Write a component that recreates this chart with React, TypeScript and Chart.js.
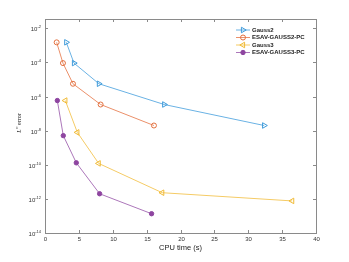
import React, { useEffect, useRef } from "react";
import { Chart, registerables } from "chart.js";

Chart.register(...registerables);

const seriesNames = ["Gauss2", "ESAV-GAUSS2-PC", "Gauss3", "ESAV-GAUSS3-PC"];
const gauss2Cpu = [3.14, 4.28, 7.96, 17.6, 32.35];
const gauss2Err = [1.5e-3, 9.1e-5, 5.6e-6, 3.4e-7, 2.0e-8];
const esav2Cpu = [1.72, 2.65, 4.13, 8.21, 16.08];
const esav2Err = [1.5e-3, 9.1e-5, 5.6e-6, 3.4e-7, 2.0e-8];
const gauss3Cpu = [3.0, 4.77, 7.92, 17.3, 36.48];
const gauss3Err = [5.8e-7, 7.9e-9, 1.2e-10, 2.3e-12, 7.6e-13];
const esav3Cpu = [1.82, 2.7, 4.62, 8.06, 15.73];
const esav3Err = [5.8e-7, 5.1e-9, 1.3e-10, 2.0e-12, 1.35e-13];

const xTicks = [0, 5, 10, 15, 20, 25, 30, 35, 40];
const yTickExps = [-14, -12, -10, -8, -6, -4, -2];
const xTitle = "CPU time (s)";
const yTitleMain = "L";
const yTitleSup = "\u221E";
const yTitleRest = " error";

const markerColors = ["#3F9BDA", "#E2703F", "#F0BA35", "#8E45A0"];
const lineColors = ["#6AB2E4", "#EB906A", "#F5CB65", "#AC77BA"];

const toPoints = (xs: number[], ys: number[]) => xs.map((x, i) => ({ x, y: ys[i] }));

function drawMarker(
  ctx: CanvasRenderingContext2D,
  style: string,
  rot: number,
  x: number,
  y: number,
  r: number,
  stroke: string,
  fill: string
) {
  ctx.save();
  ctx.translate(x, y);
  ctx.rotate((rot * Math.PI) / 180);
  ctx.beginPath();
  if (style === "triangle") {
    ctx.moveTo(0, -r);
    ctx.lineTo(r * 0.866, r * 0.5);
    ctx.lineTo(-r * 0.866, r * 0.5);
    ctx.closePath();
  } else {
    ctx.arc(0, 0, r, 0, Math.PI * 2);
  }
  ctx.fillStyle = fill;
  ctx.fill();
  ctx.strokeStyle = stroke;
  ctx.lineWidth = 1;
  ctx.stroke();
  ctx.restore();
}

const axisPlugin = {
  id: "matlabAxes",
  beforeDatasetsDraw(chart: any) {
    const ctx = chart.ctx as CanvasRenderingContext2D;
    const { left, right, top, bottom } = chart.chartArea;
    const xs = chart.scales.x;
    const ys = chart.scales.y;
    ctx.save();
    ctx.strokeStyle = "#8a8a8a";
    ctx.lineWidth = 1;
    ctx.strokeRect(Math.round(left) + 0.5, Math.round(top) + 0.5, Math.round(right - left), Math.round(bottom - top));
    ctx.fillStyle = "#333";
    ctx.font = "6px 'Liberation Sans', Arial, sans-serif";
    ctx.textAlign = "center";
    ctx.textBaseline = "top";
    for (const v of xTicks) {
      const px = Math.round(xs.getPixelForValue(v)) + 0.5;
      ctx.beginPath();
      ctx.moveTo(px, bottom);
      ctx.lineTo(px, bottom - 3);
      ctx.moveTo(px, top);
      ctx.lineTo(px, top + 3);
      ctx.stroke();
      ctx.fillText(String(v), px, bottom + 3);
    }
    for (const e of yTickExps) {
      const py = Math.round(ys.getPixelForValue(Math.pow(10, e))) + 0.5;
      ctx.beginPath();
      ctx.moveTo(left, py);
      ctx.lineTo(left + 3, py);
      ctx.moveTo(right, py);
      ctx.lineTo(right - 3, py);
      ctx.stroke();
      const sup = String(e);
      ctx.font = "4px 'Liberation Sans', Arial, sans-serif";
      const supW = ctx.measureText(sup).width;
      ctx.textAlign = "left";
      ctx.textBaseline = "alphabetic";
      ctx.fillText(sup, left - 4 - supW, py - 1);
      ctx.font = "6px 'Liberation Sans', Arial, sans-serif";
      ctx.textAlign = "right";
      ctx.textBaseline = "middle";
      ctx.fillText("10", left - 4 - supW, py + 1);
    }
    ctx.font = "7.5px 'Liberation Sans', Arial, sans-serif";
    ctx.textAlign = "center";
    ctx.textBaseline = "middle";
    ctx.fillStyle = "#222";
    ctx.fillText(xTitle, (left + right) / 2, bottom + 15);
    ctx.save();
    ctx.translate(19, (top + bottom) / 2 - 3);
    ctx.rotate(-Math.PI / 2);
    ctx.font = "italic 6px 'Liberation Serif', 'DejaVu Serif', serif";
    const wL = ctx.measureText(yTitleMain).width;
    ctx.font = "4px 'Liberation Serif', 'DejaVu Serif', serif";
    const wS = ctx.measureText(yTitleSup).width;
    ctx.font = "6px 'Liberation Serif', 'DejaVu Serif', serif";
    const wR = ctx.measureText(yTitleRest).width;
    let cx = -(wL + wS + wR) / 2;
    ctx.textAlign = "left";
    ctx.textBaseline = "middle";
    ctx.font = "italic 6px 'Liberation Serif', 'DejaVu Serif', serif";
    ctx.fillText(yTitleMain, cx, 0);
    cx += wL;
    ctx.font = "4px 'Liberation Serif', 'DejaVu Serif', serif";
    ctx.fillText(yTitleSup, cx, -2);
    cx += wS;
    ctx.font = "6px 'Liberation Serif', 'DejaVu Serif', serif";
    ctx.fillText(yTitleRest, cx, 0);
    ctx.restore();
    ctx.restore();
  },
  afterDraw(chart: any) {
    const ctx = chart.ctx as CanvasRenderingContext2D;
    const rows = [30, 37.5, 45, 52.5];
    ctx.save();
    chart.data.datasets.forEach((ds: any, i: number) => {
      const y = rows[i];
      ctx.strokeStyle = ds.borderColor;
      ctx.lineWidth = 1;
      ctx.beginPath();
      ctx.moveTo(236, y);
      ctx.lineTo(250, y);
      ctx.stroke();
      drawMarker(ctx, ds.pointStyle, ds.pointRotation || 0, 243, y, ds.pointRadius, ds.pointBorderColor, ds.pointBackgroundColor);
      ctx.fillStyle = "#222";
      ctx.font = "bold 6px 'Liberation Sans', Arial, sans-serif";
      ctx.textAlign = "left";
      ctx.textBaseline = "middle";
      ctx.fillText(ds.label, 252, y);
    });
    ctx.restore();
  },
};

export default function App() {
  const ref = useRef<HTMLCanvasElement | null>(null);
  useEffect(() => {
    document.body.style.margin = "0";
    if (!ref.current) return;
    const mk = (i: number, xs: number[], ys: number[], style: string, rot: number, filled: boolean, r: number) => ({
      label: seriesNames[i],
      data: toPoints(xs, ys),
      showLine: true,
      borderColor: lineColors[i],
      backgroundColor: markerColors[i],
      borderWidth: 1,
      pointStyle: style,
      pointRotation: rot,
      pointRadius: r,
      pointBorderWidth: 1,
      pointBorderColor: markerColors[i],
      pointBackgroundColor: filled ? markerColors[i] : "rgba(255,255,255,0)",
    });
    const chart = new Chart(ref.current, {
      type: "scatter",
      data: {
        datasets: [
          mk(0, gauss2Cpu, gauss2Err, "triangle", 90, false, 3.2),
          mk(1, esav2Cpu, esav2Err, "circle", 0, false, 2.5),
          mk(2, gauss3Cpu, gauss3Err, "triangle", -90, false, 3.2),
          mk(3, esav3Cpu, esav3Err, "circle", 0, true, 2.2),
        ] as any,
      },
      options: {
        animation: false,
        responsive: false,
        devicePixelRatio: 1,
        layout: { padding: { left: 45, right: 33, top: 19, bottom: 29 } },
        plugins: { legend: { display: false }, tooltip: { enabled: false } },
        scales: {
          x: { type: "linear", min: 0, max: 40, display: false },
          y: { type: "logarithmic", min: 1e-14, max: 0.035, display: false },
        },
      },
      plugins: [axisPlugin],
    });
    return () => chart.destroy();
  }, []);
  return (
    <div style={{ width: 349, height: 262, background: "#fff" }}>
      <canvas ref={ref} width={349} height={262} style={{ display: "block" }} />
    </div>
  );
}
